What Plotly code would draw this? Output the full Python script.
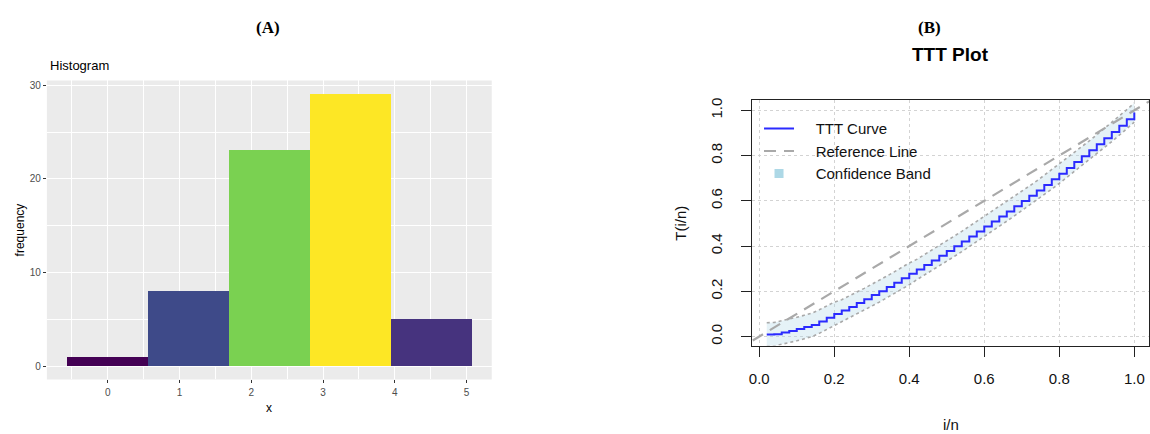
import plotly.graph_objects as go

# ---------------- Panel A data (histogram) ----------------
bin_edges = [-0.57, 0.56, 1.69, 2.82, 3.95, 5.08]
bin_counts = [1, 8, 23, 29, 5]
bin_colors = ["#440154", "#3E4A89", "#7AD151", "#FDE725", "#46337E"]
hist_xticks = [0, 1, 2, 3, 4, 5]
hist_yticks = [0, 10, 20, 30]

# ---------------- Panel B data (TTT plot) ----------------
ttt_x = [i / 50 for i in range(1, 51)]
ttt_y = [0.009, 0.010, 0.018, 0.024, 0.033, 0.042, 0.051, 0.066, 0.083, 0.100,
         0.115, 0.131, 0.148, 0.165, 0.183, 0.200, 0.219, 0.238, 0.258, 0.277,
         0.296, 0.316, 0.336, 0.357, 0.378, 0.399, 0.420, 0.442, 0.464, 0.486,
         0.508, 0.531, 0.553, 0.576, 0.599, 0.622, 0.645, 0.670, 0.695, 0.720,
         0.745, 0.771, 0.797, 0.823, 0.850, 0.877, 0.904, 0.932, 0.961, 0.990]
band_upper = [0.061, 0.062, 0.070, 0.076, 0.085, 0.094, 0.103, 0.118, 0.135, 0.152,
              0.163, 0.179, 0.196, 0.213, 0.231, 0.248, 0.267, 0.286, 0.306, 0.325,
              0.341, 0.361, 0.381, 0.402, 0.423, 0.444, 0.465, 0.487, 0.509, 0.531,
              0.551, 0.574, 0.596, 0.619, 0.642, 0.665, 0.688, 0.713, 0.738, 0.763,
              0.787, 0.813, 0.839, 0.865, 0.892, 0.919, 0.946, 0.974, 1.003, 1.032]
band_lower = [-0.043, -0.042, -0.034, -0.028, -0.019, -0.010, -0.001, 0.014, 0.031, 0.048,
              0.067, 0.083, 0.100, 0.117, 0.135, 0.152, 0.171, 0.190, 0.210, 0.229,
              0.251, 0.271, 0.291, 0.312, 0.333, 0.354, 0.375, 0.397, 0.419, 0.441,
              0.465, 0.488, 0.510, 0.533, 0.556, 0.579, 0.602, 0.627, 0.652, 0.677,
              0.703, 0.729, 0.755, 0.781, 0.808, 0.835, 0.862, 0.890, 0.919, 0.948]
ref_x = [-0.2, 1.2]
ref_y = [-0.2, 1.2]
ttt_ticks = [0.0, 0.2, 0.4, 0.6, 0.8, 1.0]
ttt_ticklabels = ["0.0", "0.2", "0.4", "0.6", "0.8", "1.0"]
legend_names = ["TTT Curve", "Reference Line", "Confidence Band"]

W, H = 1150, 434
def px(x):
    return x / W
def py(y):
    return 1 - y / H

PAD = "\u00a0\u00a0\u00a0\u00a0"

fig = go.Figure()

# ---- Panel A bars ----
centers = [(bin_edges[i] + bin_edges[i + 1]) / 2 for i in range(len(bin_counts))]
widths = [bin_edges[i + 1] - bin_edges[i] for i in range(len(bin_counts))]
fig.add_trace(go.Bar(x=centers, y=bin_counts, width=widths,
                     marker=dict(color=bin_colors, line=dict(width=0)),
                     xaxis="x", yaxis="y", showlegend=False, hoverinfo="x+y"))

# ---- Panel B traces ----
fig.add_trace(go.Scatter(x=ttt_x, y=band_lower, mode="lines",
                         line=dict(color="rgba(0,0,0,0)", width=0),
                         xaxis="x2", yaxis="y2", showlegend=False, hoverinfo="skip"))
fig.add_trace(go.Scatter(x=ttt_x, y=band_upper, mode="lines", fill="tonexty",
                         fillcolor="rgba(173,216,230,0.32)",
                         line=dict(color="rgba(0,0,0,0)", width=0),
                         xaxis="x2", yaxis="y2", showlegend=False, hoverinfo="skip"))
fig.add_trace(go.Scatter(x=ttt_x, y=band_upper, mode="lines",
                         line=dict(color="#A9A9A9", width=1.6, dash="dot"),
                         xaxis="x2", yaxis="y2", showlegend=False))
fig.add_trace(go.Scatter(x=ttt_x, y=band_lower, mode="lines",
                         line=dict(color="#A9A9A9", width=1.6, dash="dot"),
                         xaxis="x2", yaxis="y2", showlegend=False))
fig.add_trace(go.Scatter(x=ref_x, y=ref_y, mode="lines", name=PAD + legend_names[1],
                         line=dict(color="#A9A9A9", width=2.2, dash="12px,8px"),
                         xaxis="x2", yaxis="y2", legendrank=2))
fig.add_trace(go.Scatter(x=ttt_x, y=ttt_y, mode="lines", name=PAD + legend_names[0],
                         line=dict(color="#2B2BFF", width=2, shape="hv"),
                         xaxis="x2", yaxis="y2", legendrank=1))
fig.add_trace(go.Scatter(x=[None], y=[None], mode="markers", name=PAD + legend_names[2],
                         marker=dict(symbol="square", size=9, color="#ADD8E6"),
                         xaxis="x2", yaxis="y2", legendrank=3))

grayfont = dict(family="Liberation Sans, Arial", size=10, color="#4D4D4D")
bfont = dict(family="Liberation Sans, Arial", size=15, color="#111111")

fig.update_layout(
    width=W, height=H, margin=dict(l=0, r=0, t=0, b=0),
    paper_bgcolor="white", plot_bgcolor="white",
    bargap=0,
    xaxis=dict(domain=[px(44), px(490)], range=[-0.847, 5.35],
               tickvals=hist_xticks, ticks="outside", ticklen=3, tickcolor="#333333",
               tickfont=grayfont, showgrid=True, gridcolor="white", gridwidth=1.1,
               minor=dict(dtick=0.5, tick0=0.5, showgrid=True, gridcolor="white", gridwidth=0.5, ticks=""),
               zeroline=False, showline=False, fixedrange=True, ticklabelstandoff=1),
    yaxis=dict(domain=[py(379), py(78)], range=[-1.38, 30.5],
               tickvals=hist_yticks, ticks="outside", ticklen=3, tickcolor="#333333",
               tickfont=grayfont, showgrid=True, gridcolor="white", gridwidth=1.1,
               minor=dict(dtick=5, tick0=5, showgrid=True, gridcolor="white", gridwidth=0.5, ticks=""),
               zeroline=False, showline=False, fixedrange=True),
    xaxis2=dict(domain=[px(751), px(1149)], range=[-0.0192, 1.0392], anchor="y2",
                tickvals=ttt_ticks, ticktext=ttt_ticklabels, ticks="outside", ticklen=10,
                tickcolor="#222222", tickwidth=1, tickfont=bfont, ticklabelstandoff=9,
                showgrid=True, gridcolor="#D3D3D3", griddash="dot", gridwidth=1,
                zeroline=False, showline=True, mirror=True, linecolor="#222222", linewidth=1),
    yaxis2=dict(domain=[py(345), py(98)], range=[-0.0402, 1.0442], anchor="x2",
                tickvals=ttt_ticks, ticktext=ttt_ticklabels, ticks="outside", ticklen=10,
                tickcolor="#222222", tickwidth=1, tickfont=bfont, tickangle=-90,
                ticklabelstandoff=13,
                showgrid=True, gridcolor="#D3D3D3", griddash="dot", gridwidth=1,
                zeroline=False, showline=True, mirror=True, linecolor="#222222", linewidth=1),
    legend=dict(x=px(758), y=py(110), xanchor="left", yanchor="top",
                bgcolor="rgba(0,0,0,0)", borderwidth=0, traceorder="normal",
                font=dict(family="Liberation Sans, Arial", size=15, color="#111111"),
                itemwidth=30, tracegroupgap=0),
    showlegend=True,
)
# panel A background
fig.add_shape(type="rect", xref="paper", yref="paper", layer="below",
              x0=px(44), x1=px(490), y0=py(379), y1=py(78),
              fillcolor="#EBEBEB", line=dict(width=0))

def A(text, x, y, size, family="Liberation Sans, Arial", color="black", angle=0, xanchor="center"):
    return dict(text=text, x=px(x), y=py(y), xref="paper", yref="paper",
                xanchor=xanchor, yanchor="middle", textangle=angle, showarrow=False,
                font=dict(family=family, size=size, color=color))

serif = "Liberation Serif, Times New Roman"
ann = [
    A("<b>(A)</b>", 266, 25, 17, serif),
    A("<b>(B)</b>", 929, 25, 17, serif),
    A("Histogram", 45, 63, 13, xanchor="left"),
    A("frequency", 17, 228, 12, angle=-90),
    A("x", 267, 408, 12),
    A("<b>TTT Plot</b>", 950, 52, 19),
    A("i/n", 950, 424, 15, color="#111111"),
    A("T(i/n)", 679, 222, 15, color="#111111", angle=-90),
]
fig.update_layout(annotations=ann)

fig.write_html("out.html", config={"displayModeBar": False},
               post_script="document.body.style.margin='0px';document.body.style.overflow='hidden';")
